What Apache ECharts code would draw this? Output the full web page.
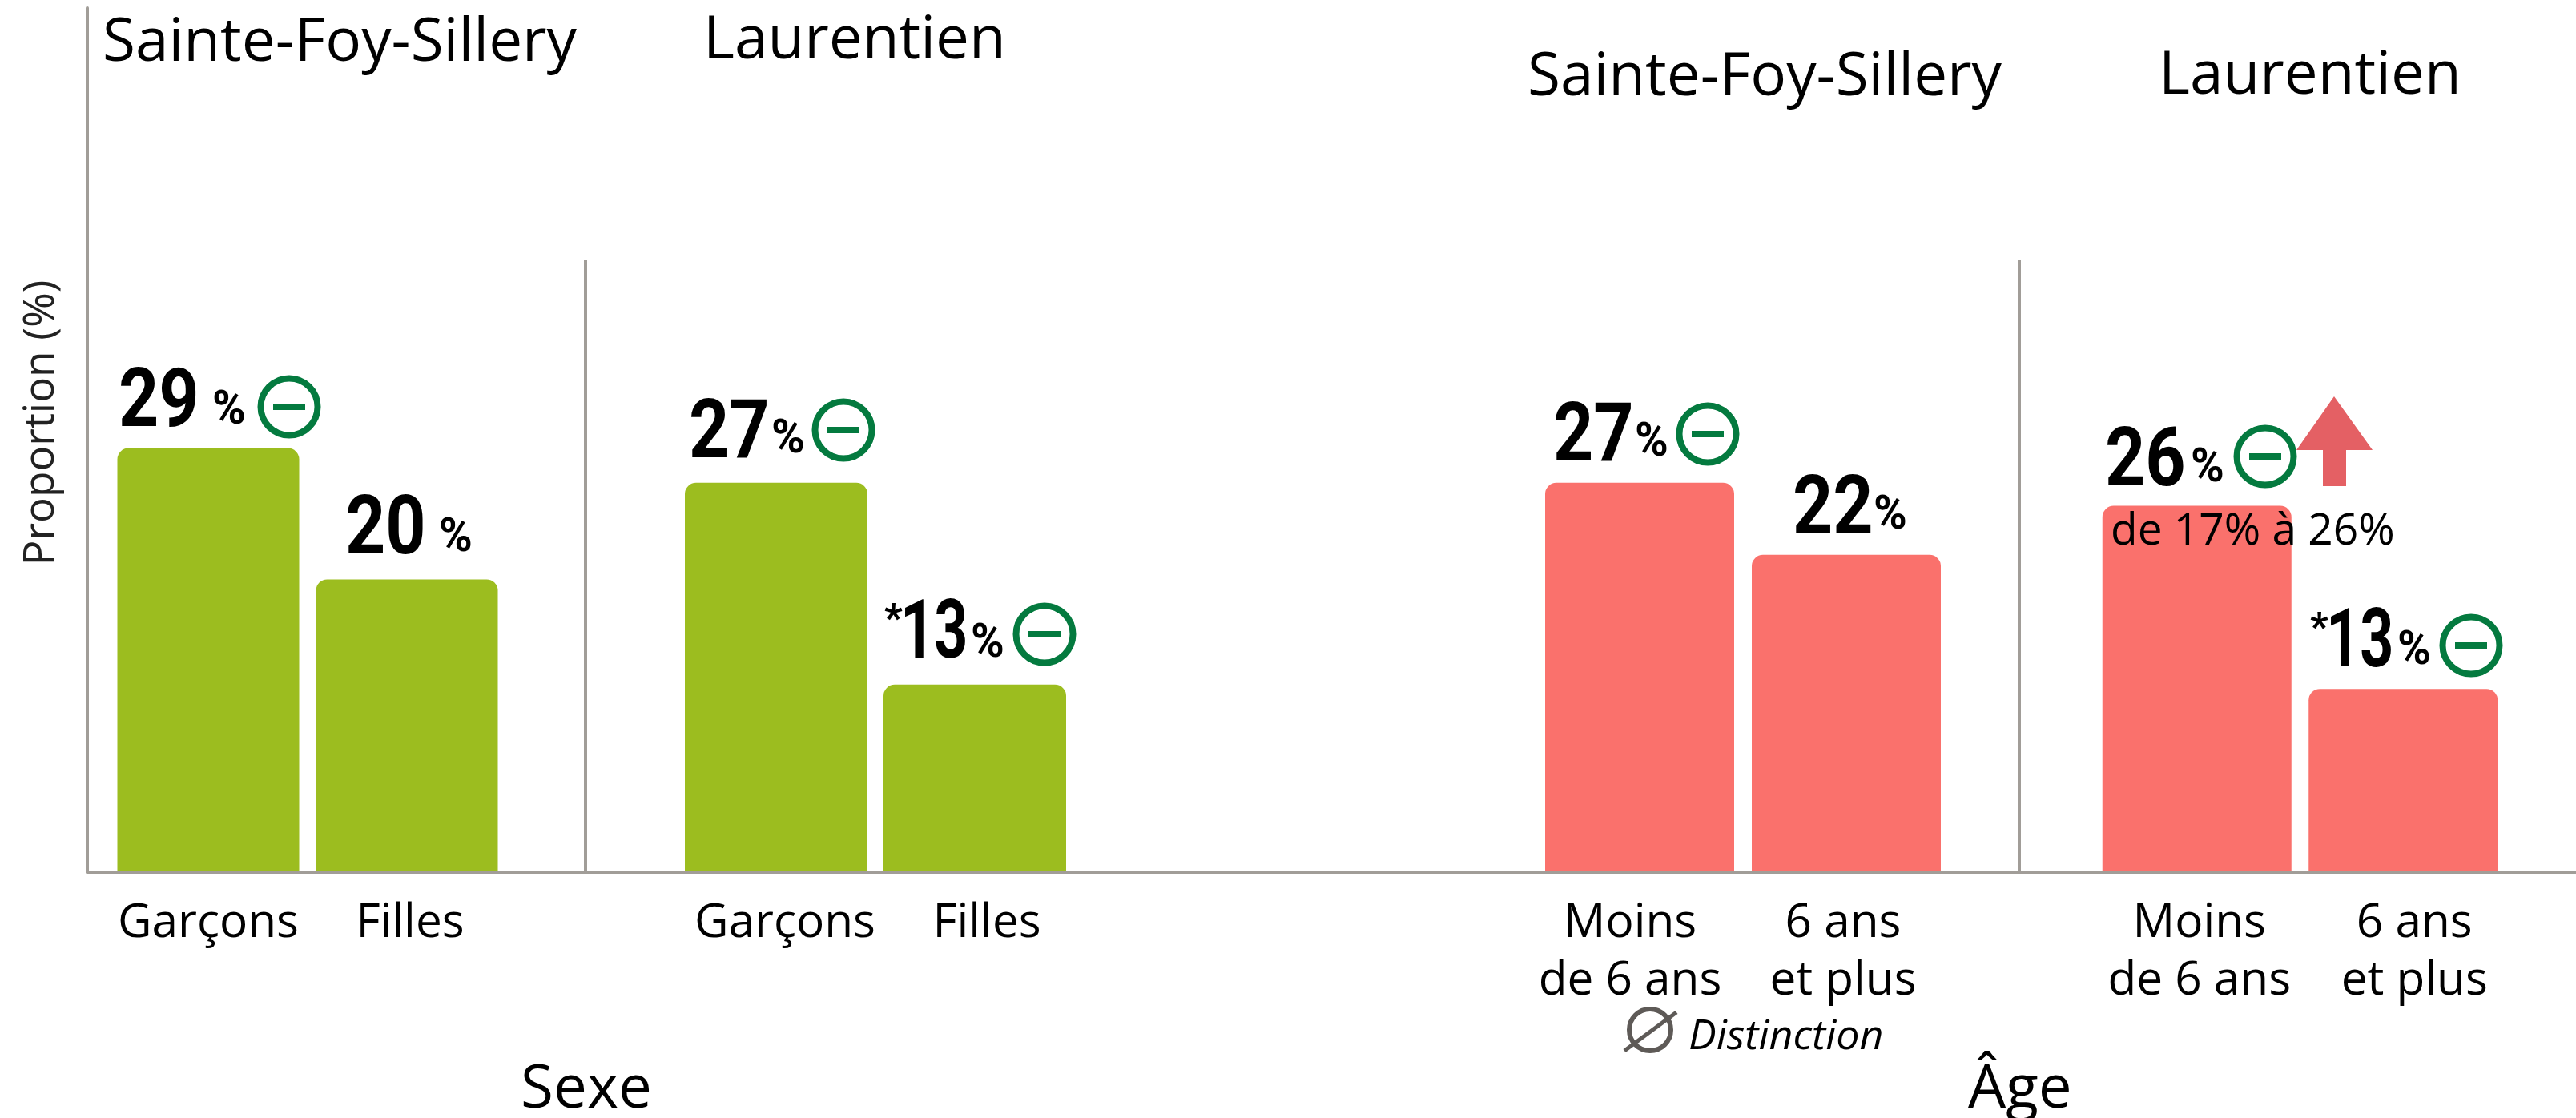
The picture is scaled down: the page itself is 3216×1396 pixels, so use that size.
<!DOCTYPE html>
<html><head><meta charset="utf-8">
<style>html,body{margin:0;padding:0;background:#fff}#c{width:3216px;height:1396px}</style>
<script src="https://cdn.jsdelivr.net/npm/echarts@6/dist/echarts.min.js"></script>
</head><body><div id="c"></div>
<script>
// Data
const sexeCategories = ['Garçons', 'Filles'];
const ageCategories = ['Moins\nde 6 ans', '6 ans\net plus'];
const sfsSexeValues = [29.3, 20.2];
const laurSexeValues = [26.9, 12.9];
const sfsAgeValues = [26.9, 21.9];
const laurAgeValues = [25.3, 12.6];
const sfsSexeLabels = ['29', '20'];
const laurSexeLabels = ['27', '13'];
const sfsAgeLabels = ['27', '22'];
const laurAgeLabels = ['26', '13'];

const GREEN = '#9cbd1f', RED = '#fa716c', AXIS = '#a19d98', ICON = '#047a3f';
const FONT = '"Open Sans"', NUM = 'Roboto';
const BASE = 1087;

const panels = [
  {left:136, width:496, barW:227, color:GREEN, cats:sexeCategories, vals:sfsSexeValues, shift:[0,4]},
  {left:845, width:496, barW:228, color:GREEN, cats:sexeCategories, vals:laurSexeValues, shift:[11,15]},
  {left:1918, width:516, barW:236, color:RED, cats:ageCategories, vals:sfsAgeValues, shift:[-12,-4]},
  {left:2614, width:515, barW:236, color:RED, cats:ageCategories, vals:laurAgeValues, shift:[3,14]}
];

const grids=[{left:109,top:10,width:3107,height:BASE-10+2}], xAxes=[{gridIndex:0,type:'value',min:0,max:1,
  axisLine:{show:true,onZero:false,lineStyle:{color:AXIS,width:4}},axisTick:{show:false},axisLabel:{show:false},splitLine:{show:false}}],
  yAxes=[{gridIndex:0,type:'value',min:0,max:1,axisLine:{show:true,onZero:false,lineStyle:{color:AXIS,width:4}},axisTick:{show:false},axisLabel:{show:false},splitLine:{show:false}}],
  series=[];
panels.forEach((p,i)=>{
  const g=i+1;
  grids.push({left:p.left,width:p.width,top:BASE-1080,height:1080});
  xAxes.push({gridIndex:g,type:'category',axisLine:{show:false},axisTick:{show:false},
    data:p.cats.map((c,j)=>{const s=p.shift[j];return {value:c,textStyle:{padding:s>=0?[0,0,0,2*s]:[0,-2*s,0,0]}};}),
    axisLabel:{interval:0,margin:30,fontFamily:FONT,fontSize:58.5,lineHeight:72,color:'#000'}});
  yAxes.push({gridIndex:g,type:'value',min:0,max:60,show:false});
  series.push({type:'bar',xAxisIndex:g,yAxisIndex:g,barWidth:p.barW,
    itemStyle:{color:p.color,borderRadius:[14,14,0,0]},data:p.vals});
});

const D=0.21;
function base(b,size){return b+size*D;}
function txt(text,x,b,size,o={}){
  return {type:'text',x,y:base(b,size),z:10,scaleX:o.sx||1,style:Object.assign({text,fontFamily:o.font||FONT,fontSize:size,
    fontWeight:o.w||'normal',fill:'#000',align:'left',verticalAlign:'bottom'},o.style||{})};
}
function icon(cx,cy){
  return [{type:'circle',shape:{cx,cy,r:35.5},z:10,style:{fill:'none',stroke:ICON,lineWidth:8}},
          {type:'rect',shape:{x:cx-20,y:cy-4,width:40,height:8},z:10,style:{fill:ICON}}];
}
// Value label placement: text, number left, baseline, number scale, % left, % baseline, optional star left
const valueLayout=[
  [sfsSexeLabels[0],148,536,.86,265,531],
  [sfsSexeLabels[1],431,695,.86,548,690],
  [laurSexeLabels[0],860,575,.86,963,567],
  [laurSexeLabels[1],1124,825,.72,1212,822,1104],
  [sfsAgeLabels[0],1939,579,.86,2041,571],
  [sfsAgeLabels[1],2238,670,.86,2339,662],
  [laurAgeLabels[0],2628,610,.86,2735,603],
  [laurAgeLabels[1],2904,836,.72,2993,831,2884]
];
const valueTexts=[];
valueLayout.forEach(([t,x,b,sx,px,pb,sxp])=>{
  valueTexts.push(txt(t,x,b,102,{font:NUM,w:'bold',sx}));
  valueTexts.push(txt('%',px,pb,59,{font:NUM,w:'bold',sx:.96}));
  if(sxp) valueTexts.push(txt('*',sxp,b-34,50,{font:NUM,w:'bold'}));
});
const graphic=[
  {type:'line',shape:{x1:731,y1:325,x2:731,y2:BASE},z:5,style:{stroke:AXIS,lineWidth:4}},
  {type:'line',shape:{x1:2521,y1:325,x2:2521,y2:BASE},z:5,style:{stroke:AXIS,lineWidth:4}},
  txt('Sainte-Foy-Sillery',128,77,74.7),
  txt('Laurentien',878,74,74.7),
  txt('Sainte-Foy-Sillery',1907,120,74.7),
  txt('Laurentien',2695,118,74.7),
  txt('Sexe',650,1384,74.7),
  txt('Âge',2457,1384,74.7),
  {type:'text',x:52,y:528,z:10,rotation:Math.PI/2,style:{text:'Proportion (%)',fontFamily:FONT,fontSize:53,fill:'#222',align:'center',verticalAlign:'middle'}},
  txt('de 17% à 26%',2635,680,55),
  txt('Distinction',2108,1310,52,{style:{fontStyle:'italic'}}),
  {type:'circle',shape:{cx:2060,cy:1286,r:26},z:10,style:{fill:'none',stroke:'#5e5a57',lineWidth:6}},
  {type:'line',shape:{x1:2028,y1:1312,x2:2093,y2:1264},z:10,style:{stroke:'#5e5a57',lineWidth:5}},
  {type:'polygon',shape:{points:[[2914,495],[2962,562],[2929,562],[2929,607],[2900,607],[2900,562],[2867,562]]},z:10,style:{fill:'#e46064'}},
  ...valueTexts,
  ...icon(361,508),...icon(1053,537),...icon(1304,792),...icon(2132,542),...icon(2828,570),...icon(3085,806)
];

const chart=echarts.init(document.getElementById('c'),null,{renderer:'canvas'});
chart.setOption({animation:false,backgroundColor:'#fff',grid:grids,xAxis:xAxes,yAxis:yAxes,series,graphic});
</script></body></html>
